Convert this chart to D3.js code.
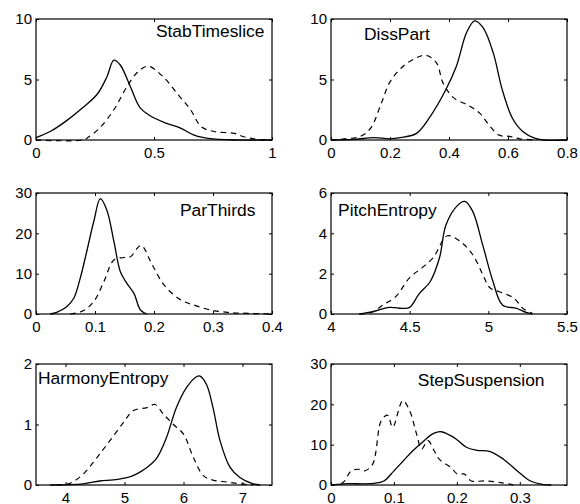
<!DOCTYPE html>
<html><head><meta charset="utf-8">
<script src="https://cdn.jsdelivr.net/npm/d3@7"></script>
<style>
body{margin:0;background:#fff;}
text{font-family:"Liberation Sans",Arial,Helvetica,sans-serif;fill:#000;}
</style></head>
<body><svg id="c" width="580" height="504"></svg>
<script>
// ---- data ----
const titles = ["StabTimeslice","DissPart","ParThirds","PitchEntropy","HarmonyEntropy","StepSuspension"];
const xDomains = [[0,1],[0,0.8],[0,0.4],[4,5.5],[3.5,7.5],[0,0.375]];
const yDomains = [[0,10],[0,10],[0,30],[0,6],[0,2],[0,30]];
const xTicks = [[0,0.5,1],[0,0.2,0.4,0.6,0.8],[0,0.1,0.2,0.3,0.4],[4,4.5,5,5.5],[4,5,6,7],[0,0.1,0.2,0.3]];
const yTicks = [[0,5,10],[0,5,10],[0,10,20,30],[0,2,4,6],[0,1,2],[0,10,20,30]];
// title anchor (left, baseline) in data units
const titleX = [0.508,0.112,0.244,4.045,3.534,0.138];
const titleY = [8.5,8.26,24.3,4.86,1.67,24.5];

const stabSolid = [[0,0.2],[0.06,0.7],[0.13,1.6],[0.2,2.7],[0.26,3.8],[0.30,5.2],[0.33,6.6],[0.357,6.2],[0.40,4.4],[0.44,2.7],[0.48,2.05],[0.55,1.4],[0.61,1.0],[0.67,0.4],[0.73,0.14],[0.84,0],[1,0]];
const stabDash = [[0,0],[0.2,0],[0.22,0.2],[0.27,1.0],[0.33,2.5],[0.385,4.4],[0.43,5.6],[0.475,6.1],[0.54,5.2],[0.60,3.8],[0.655,2.5],[0.70,1.1],[0.755,0.7],[0.84,0.55],[0.88,0.27],[0.94,0.05],[1,0]];

const dissSolid = [[0,0],[0.08,0.05],[0.145,0.2],[0.2,0.1],[0.235,0.2],[0.29,0.55],[0.335,1.9],[0.39,4.2],[0.425,6.1],[0.46,8.9],[0.487,9.85],[0.515,9.3],[0.55,7.2],[0.58,4.2],[0.615,1.8],[0.65,0.7],[0.69,0.15],[0.72,0],[0.8,0]];
const dissDash = [[0,0],[0.045,0.1],[0.1,0.3],[0.135,1.0],[0.17,3.0],[0.2,4.8],[0.245,6.1],[0.29,6.8],[0.322,7.0],[0.357,6.4],[0.38,4.7],[0.415,3.5],[0.47,2.8],[0.505,2.2],[0.535,1.25],[0.57,0.4],[0.605,0.3],[0.64,0.1],[0.7,0]];

const parSolid = [[0.024,0],[0.035,0.4],[0.052,1.8],[0.064,3.9],[0.075,8.9],[0.086,15.5],[0.098,23],[0.109,28.6],[0.12,25.8],[0.132,18],[0.143,10.5],[0.154,7.6],[0.166,5.1],[0.177,1.0],[0.188,0]];
const parDash = [[0.058,0],[0.08,0.8],[0.098,3.1],[0.115,8],[0.132,13.4],[0.149,14],[0.16,14.2],[0.178,17],[0.197,12.2],[0.217,7.2],[0.245,3.5],[0.268,2.2],[0.296,1.0],[0.325,0.4],[0.36,0.15],[0.4,0]];

const pitchSolid = [[4.18,0],[4.265,0.12],[4.37,0.33],[4.455,0.28],[4.5,0.33],[4.56,1.0],[4.63,1.6],[4.69,2.8],[4.73,4.4],[4.8,5.35],[4.85,5.58],[4.9,5.1],[4.965,3.4],[5.03,1.6],[5.09,0.45],[5.18,0.28],[5.24,0.08],[5.28,0]];
const pitchDash = [[4.18,0],[4.265,0.1],[4.33,0.45],[4.41,0.85],[4.5,1.8],[4.58,2.3],[4.65,2.8],[4.74,3.88],[4.82,3.6],[4.9,2.95],[4.965,1.95],[5.01,1.3],[5.07,1.1],[5.16,0.8],[5.22,0.28],[5.28,0.03]];

const harmSolid = [[3.74,0],[4.3,0.02],[4.58,0.066],[4.81,0.083],[5.04,0.12],[5.2,0.18],[5.38,0.29],[5.55,0.45],[5.71,0.78],[5.88,1.28],[6.05,1.61],[6.22,1.79],[6.28,1.8],[6.39,1.66],[6.5,1.28],[6.62,0.73],[6.79,0.29],[6.96,0.12],[7.18,0.02],[7.3,0]];
const harmDash = [[3.85,0],[4.08,0.03],[4.3,0.18],[4.53,0.45],[4.75,0.73],[4.98,1.03],[5.15,1.23],[5.38,1.28],[5.52,1.33],[5.66,1.17],[5.83,1.0],[6.0,0.84],[6.17,0.45],[6.34,0.15],[6.5,0.08],[6.73,0.05],[6.96,0.02],[7.18,0]];

const stepSolid = [[0,0],[0.02,0.3],[0.068,0.4],[0.084,1.0],[0.1,3.5],[0.115,6],[0.13,8.5],[0.148,11],[0.163,12.8],[0.175,13.2],[0.195,11.8],[0.216,9.3],[0.232,8.6],[0.253,8.3],[0.274,6.4],[0.296,3.5],[0.317,1.0],[0.338,0.1],[0.35,0]];
const stepDash = [[0,0],[0.019,0.6],[0.032,3.5],[0.043,3.9],[0.053,3.5],[0.066,5.1],[0.08,16],[0.09,17.3],[0.098,14.3],[0.114,20.9],[0.125,18.4],[0.136,12.6],[0.144,8.9],[0.154,11],[0.164,8.5],[0.172,6.4],[0.191,4.3],[0.201,2.7],[0.212,2.7],[0.223,1.0],[0.244,1.0],[0.27,0.6],[0.29,0]];

const solidSeries = [stabSolid,dissSolid,parSolid,pitchSolid,harmSolid,stepSolid];
const dashSeries = [stabDash,dissDash,parDash,pitchDash,harmDash,stepDash];

// ---- layout ----
const colX = [36,331], rowY = [19,193,364], pw = 236, ph = 121;
const svg = d3.select("#c");

titles.forEach((t,i)=>{
  const col = i%2, row = Math.floor(i/2);
  const g = svg.append("g").attr("transform",`translate(${colX[col]},${rowY[row]})`);
  const x = d3.scaleLinear().domain(xDomains[i]).range([0,pw]);
  const y = d3.scaleLinear().domain(yDomains[i]).range([ph,0]);
  const line = d3.line().x(d=>x(d[0])).y(d=>Math.min(ph, y(d[1]))).curve(d3.curveCatmullRom.alpha(0.5));

  g.append("path").datum(dashSeries[i]).attr("d",line).attr("fill","none")
    .attr("stroke","#000").attr("stroke-width",1.2).attr("stroke-dasharray","5.5,4.5");
  g.append("path").datum(solidSeries[i]).attr("d",line).attr("fill","none")
    .attr("stroke","#000").attr("stroke-width",1.3);

  const fmt = d3.format("~g");
  const ax = (a)=>a.tickSizeInner(-3).tickSizeOuter(0).tickFormat(fmt);
  const bottom = g.append("g").attr("transform",`translate(0,${ph})`)
    .call(ax(d3.axisBottom(x).tickValues(xTicks[i])).tickPadding(7));
  const top = g.append("g").call(ax(d3.axisTop(x).tickValues(xTicks[i])));
  top.selectAll("text").remove();
  const left = g.append("g").call(ax(d3.axisLeft(y).tickValues(yTicks[i])).tickPadding(4));
  const right = g.append("g").attr("transform",`translate(${pw},0)`).call(ax(d3.axisRight(y).tickValues(yTicks[i])));
  right.selectAll("text").remove();
  [bottom,top,left,right].forEach(a=>{
    a.select(".domain").remove();
    a.selectAll("line").attr("stroke","#000");
    a.selectAll("text").attr("font-size",15).attr("font-family","Liberation Sans, Arial, sans-serif").attr("fill","#000");
  });
  g.append("rect").attr("width",pw).attr("height",ph).attr("fill","none").attr("stroke","#000").attr("stroke-width",1.2);

  g.append("text").attr("x",x(titleX[i])).attr("y",y(titleY[i])).attr("font-size",17.4).text(t);
});
</script></body></html>
